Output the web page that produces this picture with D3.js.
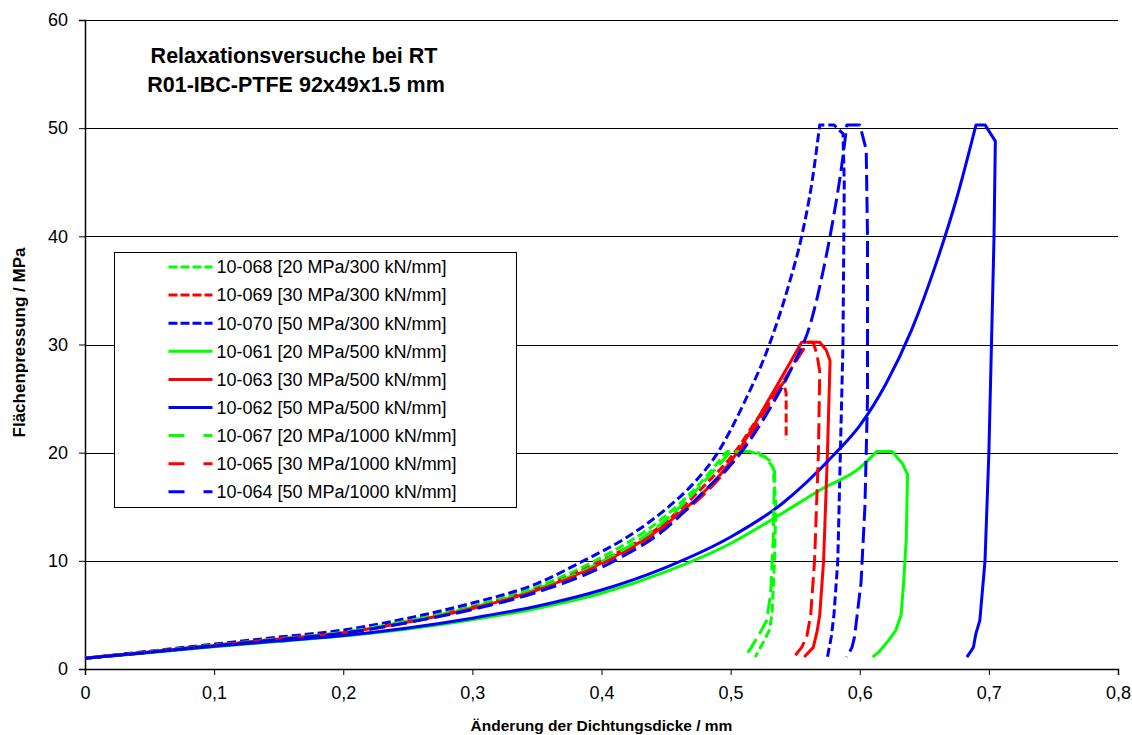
<!DOCTYPE html>
<html>
<head>
<meta charset="utf-8">
<script src="https://cdn.jsdelivr.net/npm/d3@7"></script>
<style>
  body { margin: 0; background: #fff; }
  svg { display: block; font-family: "Liberation Sans", Arial, sans-serif; }
</style>
</head>
<body>
<div id="chart"></div>
<script>
// values: [Änderung / mm, Flächenpressung / MPa]
var s068 = [[0,1],[0.05,1.6],[0.1,2.25],[0.15,2.85],[0.2,3.45],[0.25,4.5],[0.3,5.8],[0.35,7.6],[0.395,10],[0.45,14.2],[0.475,17],[0.497,20.1],[0.515,20.1],[0.527,19.6],[0.533,18.6],[0.535,15],[0.534,10],[0.532,5],[0.53,3.6],[0.525,2.4],[0.519,1.1]]
var s069 = [[0,1],[0.05,1.6],[0.1,2.2],[0.15,2.8],[0.2,3.4],[0.25,4.4],[0.3,5.7],[0.35,7.4],[0.4,10],[0.45,13.6],[0.48,17],[0.503,20],[0.52,23],[0.541,26.5],[0.543,25.5],[0.543,21.2]]
var s070 = [[0,1],[0.05,1.65],[0.1,2.3],[0.15,2.95],[0.2,3.6],[0.25,4.7],[0.3,6.1],[0.35,7.9],[0.386,10],[0.42,12.2],[0.45,14.8],[0.47,17],[0.49,20],[0.51,24.5],[0.53,30],[0.545,35.5],[0.555,40],[0.563,45],[0.569,50.3],[0.58,50.3],[0.587,49.5],[0.588,45],[0.587,30],[0.585,20],[0.583,10],[0.58,5],[0.578,3],[0.575,1.1]]
var s061 = [[0,1],[0.05,1.5],[0.1,2.05],[0.15,2.55],[0.2,3.05],[0.25,3.7],[0.3,4.55],[0.35,5.6],[0.4,7],[0.45,9],[0.5,11.6],[0.54,14.4],[0.57,16.6],[0.6,18.6],[0.613,20.1],[0.625,20.1],[0.633,19],[0.637,18],[0.636,12],[0.634,8],[0.632,5],[0.628,3.6],[0.622,2.6],[0.615,1.6],[0.61,1.1]]
var s063 = [[0,1],[0.05,1.58],[0.1,2.18],[0.15,2.78],[0.2,3.35],[0.25,4.35],[0.3,5.6],[0.35,7.3],[0.4,9.8],[0.45,13.4],[0.505,20],[0.53,25],[0.555,30.2],[0.569,30.2],[0.574,29.5],[0.577,28.5],[0.575,20],[0.572,10],[0.569,5],[0.567,3.5],[0.564,2],[0.557,1.1]]
var s062 = [[0,1],[0.05,1.55],[0.1,2.1],[0.15,2.6],[0.2,3.1],[0.25,3.8],[0.3,4.7],[0.35,5.8],[0.4,7.3],[0.45,9.4],[0.5,12.2],[0.54,15.3],[0.58,19.8],[0.6,22.5],[0.62,26.3],[0.64,31.3],[0.66,37.8],[0.675,43.5],[0.69,50.3],[0.697,50.3],[0.705,48.8],[0.704,40],[0.702,30],[0.7,20],[0.697,10],[0.693,4.5],[0.69,3.3],[0.688,2],[0.683,1.1]]
var s067 = [[0,1],[0.05,1.6],[0.1,2.2],[0.15,2.8],[0.2,3.4],[0.25,4.45],[0.3,5.7],[0.35,7.4],[0.4,9.9],[0.45,13.8],[0.5,20.1],[0.52,20.1],[0.53,19.3],[0.534,18.3],[0.533,12],[0.531,7],[0.528,4.5],[0.524,3.6],[0.516,2],[0.511,1.1]]
var s065 = [[0,1],[0.05,1.57],[0.1,2.17],[0.15,2.75],[0.2,3.32],[0.25,4.3],[0.3,5.6],[0.35,7.25],[0.4,9.7],[0.45,13.2],[0.507,20],[0.535,25.5],[0.56,30.2],[0.564,30.2],[0.567,29],[0.569,27.5],[0.568,20],[0.565,10],[0.562,5],[0.559,3],[0.555,2],[0.549,1.1]]
var s064 = [[0,1],[0.05,1.55],[0.1,2.15],[0.15,2.7],[0.2,3.3],[0.25,4.3],[0.3,5.5],[0.35,7.1],[0.41,10],[0.45,13],[0.48,16.5],[0.508,20],[0.53,24],[0.548,28],[0.562,32],[0.572,37],[0.58,42],[0.586,46.5],[0.59,50.3],[0.6,50.3],[0.605,48],[0.606,40],[0.606,25],[0.604,15],[0.601,8],[0.598,5],[0.596,3],[0.594,2],[0.59,1.1]]

var seriesNames = ["10-068 [20 MPa/300 kN/mm]","10-069 [30 MPa/300 kN/mm]","10-070 [50 MPa/300 kN/mm]",
  "10-061 [20 MPa/500 kN/mm]","10-063 [30 MPa/500 kN/mm]","10-062 [50 MPa/500 kN/mm]",
  "10-067 [20 MPa/1000 kN/mm]","10-065 [30 MPa/1000 kN/mm]","10-064 [50 MPa/1000 kN/mm]"]
var seriesData = [s068, s069, s070, s061, s063, s062, s067, s065, s064]
var seriesColors = ["#00ff00","#ff0000","#0000ff","#00ff00","#ff0000","#0000ff","#00ff00","#ff0000","#0000ff"]
var seriesDash = ["9,4","9,4","9,4",null,null,null,"16,6","16,6","16,6"]
var legendDash = ["9,3","9,3","9,3",null,null,null,"16,19","16,19","16,19"]

var xTicks = [0,0.1,0.2,0.3,0.4,0.5,0.6,0.7,0.8]
var yTicks = [0,10,20,30,40,50,60]

var W = 1132, H = 735
var margin = {top: 20, right: 14, bottom: 66, left: 85}
var width = W - margin.left - margin.right,
    height = H - margin.top - margin.bottom

var svg = d3.select("#chart").append("svg")
    .attr("width", W)
    .attr("height", H)

var g = svg.append("g")
    .attr("transform", "translate(" + margin.left + "," + margin.top + ")")

var x = d3.scaleLinear().domain([0, 0.8]).range([0, width])
var y = d3.scaleLinear().domain([0, 60]).range([height, 0])

var fmt = function(d){ return String(d).replace(".", ",") }

// gridlines
g.append("g").selectAll("line")
    .data(yTicks.filter(function(d){ return d > 0 }))
  .enter().append("line")
    .attr("x1", 0).attr("x2", width)
    .attr("y1", function(d){ return Math.round(y(d)) + 0.5 })
    .attr("y2", function(d){ return Math.round(y(d)) + 0.5 })
    .attr("stroke", "#000").attr("stroke-width", 1)

// axes
var xAxis = g.append("g")
    .attr("transform", "translate(0," + height + ")")
    .call(d3.axisBottom(x).tickValues(xTicks).tickFormat(fmt).tickSize(6).tickPadding(11))
var yAxis = g.append("g")
    .call(d3.axisLeft(y).tickValues(yTicks).tickSize(6).tickPadding(11))

;[xAxis, yAxis].forEach(function(a){
  a.select(".domain").attr("stroke", "#000").attr("stroke-width", 1.5)
  a.selectAll(".tick line").attr("stroke", "#000")
  a.selectAll("text").attr("font-size", 18).attr("fill", "#000")
    .attr("font-family", "Liberation Sans, Arial, sans-serif")
})

// curves: smooth loading branch (x rising) up to the peak, then straight segments
var loadLine = d3.line()
    .x(function(d){ return x(d[0]) })
    .y(function(d){ return y(d[1]) })
    .curve(d3.curveMonotoneX)

function pathFor(d){
  var ymax = d3.max(d, function(p){ return p[1] })
  var k = d.findIndex(function(p){ return p[1] === ymax })
  var s = loadLine(d.slice(0, k + 1))
  d.slice(k + 1).forEach(function(p){
    s += "L" + x(p[0]) + "," + y(p[1])
  })
  return s
}

g.append("g").selectAll("path")
    .data(seriesData)
  .enter().append("path")
    .attr("d", pathFor)
    .attr("fill", "none")
    .attr("stroke", function(d, i){ return seriesColors[i] })
    .attr("stroke-width", 3)
    .attr("stroke-dasharray", function(d, i){ return seriesDash[i] })
    .attr("stroke-linejoin", "round")

// title
var title = svg.append("g").attr("font-weight", "bold").attr("font-size", 21.5).attr("text-anchor", "middle")
title.append("text").attr("x", 294).attr("y", 63).text("Relaxationsversuche bei RT")
title.append("text").attr("x", 296).attr("y", 92).text("R01-IBC-PTFE 92x49x1.5 mm")

// legend
var legend = svg.append("g").attr("transform", "translate(114.5,252.5)")
legend.append("rect")
    .attr("width", 402).attr("height", 255)
    .attr("fill", "#fff").attr("stroke", "#000").attr("stroke-width", 1)

var item = legend.selectAll(".item")
    .data(seriesNames)
  .enter().append("g")
    .attr("transform", function(d, i){ return "translate(0," + (14.5 + i * 28.1) + ")" })

item.append("line")
    .attr("x1", 54).attr("x2", 98)
    .attr("stroke", function(d, i){ return seriesColors[i] })
    .attr("stroke-width", 3)
    .attr("stroke-dasharray", function(d, i){ return legendDash[i] })

item.append("text")
    .attr("x", 102).attr("dy", "0.35em")
    .attr("font-size", 18)
    .text(function(d){ return d })

// axis titles
svg.append("text")
    .attr("x", margin.left + width / 2).attr("y", 731)
    .attr("text-anchor", "middle").attr("font-weight", "bold").attr("font-size", 15.5)
    .text("Änderung der Dichtungsdicke / mm")

svg.append("text")
    .attr("transform", "translate(25," + (margin.top + height / 2 - 2) + ") rotate(-90)")
    .attr("text-anchor", "middle").attr("font-weight", "bold").attr("font-size", 17)
    .text("Flächenpressung / MPa")
</script>
</body>
</html>
